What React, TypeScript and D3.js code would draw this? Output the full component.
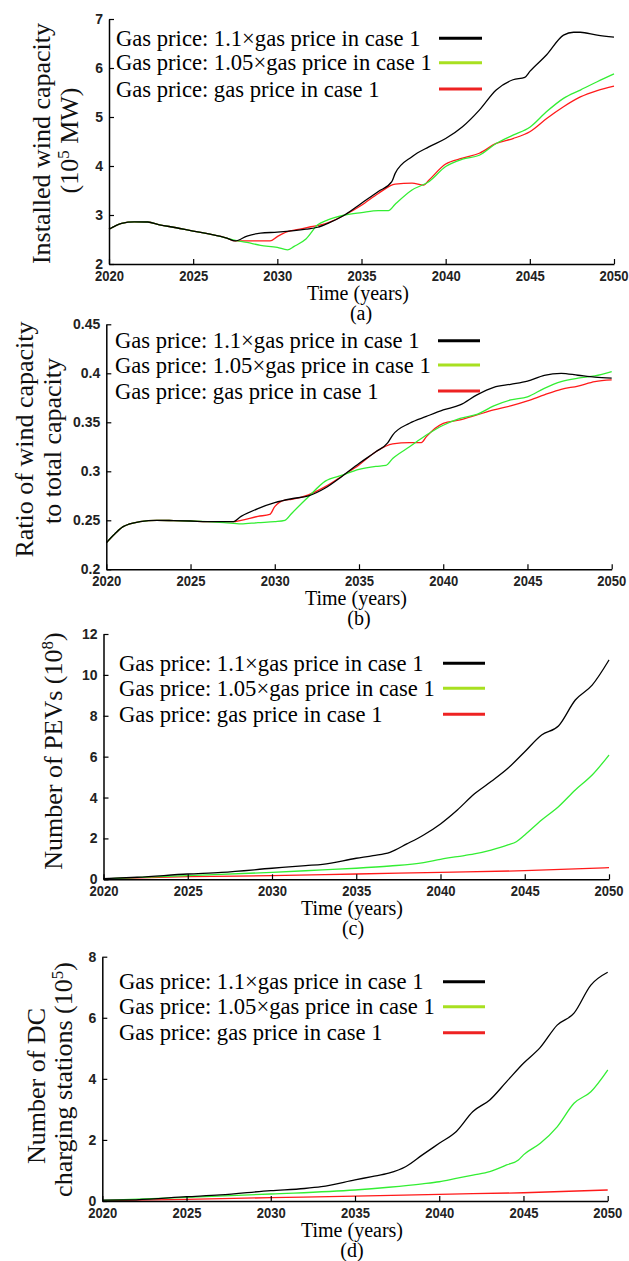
import React, { useRef, useEffect } from 'react';
import * as d3 from 'd3';

// shared labels
const yearTicks = [2020, 2025, 2030, 2035, 2040, 2045, 2050];
const legendLabels = [
  'Gas price: 1.1\u00d7gas price in case 1',
  'Gas price: 1.05\u00d7gas price in case 1',
  'Gas price: gas price in case 1',
];

// (a) installed wind capacity, 10^5 MW  -- [year, value]
const capTicks = [2, 3, 4, 5, 6, 7];
const capShared = [[2020, 2.71], [2020.75, 2.83], [2021.5, 2.86], [2022.3, 2.857], [2023, 2.8], [2024, 2.74], [2025, 2.67], [2026, 2.61], [2027, 2.53]];
const capBlack = [[2027.5, 2.47], [2028.2, 2.57], [2029, 2.63], [2030, 2.65], [2031, 2.68], [2031.7, 2.71], [2032.4, 2.75], [2033, 2.83], [2034, 3.0], [2035, 3.24], [2036, 3.48], [2036.8, 3.68], [2037, 3.85], [2038, 4.19], [2039, 4.39], [2040, 4.56], [2041, 4.8], [2042, 5.14], [2043, 5.55], [2044, 5.76], [2044.7, 5.81], [2045, 5.93], [2046, 6.27], [2047, 6.67], [2047.6, 6.73], [2048, 6.73], [2049, 6.67], [2050, 6.63]];
const capGreen = [[2027.5, 2.48], [2028.2, 2.44], [2029, 2.38], [2030, 2.34], [2030.6, 2.29], [2031, 2.36], [2031.7, 2.51], [2032.4, 2.8], [2033, 2.9], [2034, 3.0], [2035, 3.05], [2036, 3.09], [2036.6, 3.09], [2037, 3.22], [2038, 3.51], [2039, 3.68], [2040, 3.99], [2041, 4.14], [2042, 4.22], [2043, 4.46], [2044, 4.63], [2045, 4.79], [2046, 5.11], [2047, 5.38], [2048, 5.55], [2049, 5.72], [2050, 5.88]];
const capRed = [[2027.5, 2.47], [2029.57, 2.47], [2030, 2.56], [2030.8, 2.68], [2031, 2.69], [2032, 2.76], [2033, 2.84], [2034, 3.0], [2035, 3.2], [2036, 3.44], [2037, 3.63], [2038, 3.65], [2038.7, 3.61], [2039, 3.71], [2040, 4.04], [2041, 4.16], [2042, 4.26], [2043, 4.46], [2044, 4.56], [2045, 4.7], [2046, 4.97], [2047, 5.21], [2048, 5.41], [2049, 5.54], [2050, 5.63]];

// (b) ratio of wind capacity to total capacity
const ratioTicks = [0.2, 0.25, 0.3, 0.35, 0.4, 0.45];
const ratioShared = [[2020, 0.227], [2020.5, 0.236], [2021, 0.2435], [2022, 0.2486], [2023, 0.25], [2024, 0.2497], [2025, 0.2493], [2026, 0.2486]];
const ratioBlack = [[2027, 0.2486], [2027.5, 0.2486], [2028, 0.254], [2029, 0.262], [2030, 0.268], [2031, 0.272], [2032, 0.275], [2033, 0.283], [2034, 0.295], [2035, 0.308], [2036, 0.32], [2036.7, 0.329], [2037, 0.337], [2038, 0.349], [2039, 0.356], [2040, 0.3626], [2041, 0.3677], [2042, 0.378], [2043, 0.3857], [2044, 0.3888], [2045, 0.392], [2046, 0.398], [2047, 0.4], [2048, 0.398], [2049, 0.396], [2050, 0.395]];
const ratioGreen = [[2027, 0.2476], [2028, 0.2463], [2029, 0.2476], [2030, 0.2486], [2030.6, 0.25], [2031, 0.257], [2032, 0.274], [2033, 0.29], [2034, 0.296], [2035, 0.302], [2036, 0.305], [2036.6, 0.306], [2037, 0.313], [2038, 0.325], [2039, 0.337], [2040, 0.347], [2041, 0.354], [2042, 0.358], [2043, 0.3667], [2044, 0.3728], [2045, 0.376], [2046, 0.3847], [2047, 0.3915], [2048, 0.395], [2049, 0.3973], [2050, 0.4017]];
const ratioRed = [[2027, 0.2486], [2027.5, 0.2486], [2028, 0.25], [2029, 0.254], [2029.7, 0.256], [2030, 0.264], [2030.6, 0.2707], [2031, 0.2714], [2032, 0.276], [2033, 0.2843], [2034, 0.2952], [2035, 0.3065], [2036, 0.32], [2037, 0.328], [2038, 0.3293], [2038.7, 0.3293], [2039, 0.3354], [2040, 0.349], [2041, 0.3524], [2042, 0.3575], [2043, 0.3626], [2044, 0.3667], [2045, 0.3718], [2046, 0.378], [2047, 0.3837], [2048, 0.387], [2049, 0.3915], [2050, 0.3932]];

// (c) number of PEVs, 10^8
const pevTicks = [0, 2, 4, 6, 8, 10, 12];
const pevBlack = [[2020, 0.03], [2022, 0.1], [2025, 0.26], [2027, 0.34], [2030, 0.54], [2032, 0.67], [2033, 0.73], [2035, 1.03], [2036, 1.16], [2037, 1.32], [2038, 1.73], [2039, 2.17], [2040, 2.71], [2041, 3.39], [2042, 4.17], [2043, 4.78], [2044, 5.43], [2045, 6.24], [2046, 7.06], [2047, 7.5], [2048, 8.77], [2049, 9.5], [2050, 10.73]];
const pevGreen = [[2020, 0.02], [2025, 0.18], [2030, 0.34], [2033, 0.46], [2035, 0.54], [2037, 0.65], [2039, 0.82], [2040, 0.98], [2041, 1.11], [2042, 1.24], [2043, 1.43], [2044, 1.68], [2044.5, 1.84], [2045, 2.17], [2046, 2.9], [2047, 3.55], [2048, 4.37], [2049, 5.1], [2050, 6.08]];
const pevRed = [[2020, 0.02], [2025, 0.13], [2030, 0.18], [2035, 0.26], [2040, 0.34], [2045, 0.42], [2050, 0.57]];

// (d) number of DC charging stations, 10^5
const dcTicks = [0, 2, 4, 6, 8];
const dcBlack = [[2020, 0.03], [2022, 0.04], [2025, 0.14], [2027, 0.2], [2030, 0.34], [2032, 0.41], [2033, 0.47], [2035, 0.69], [2036, 0.8], [2037, 0.91], [2038, 1.12], [2039, 1.51], [2040, 1.89], [2041, 2.27], [2042, 2.93], [2043, 3.31], [2044, 3.91], [2045, 4.51], [2046, 5.03], [2047, 5.76], [2048, 6.15], [2049, 7.07], [2050, 7.49]];
const dcGreen = [[2020, 0.02], [2025, 0.12], [2030, 0.23], [2035, 0.36], [2037, 0.45], [2039, 0.56], [2040, 0.63], [2041, 0.74], [2042, 0.85], [2043, 0.96], [2044, 1.18], [2044.7, 1.34], [2045, 1.51], [2046, 1.89], [2047, 2.43], [2048, 3.2], [2049, 3.58], [2050, 4.29]];
const dcRed = [[2020, 0.01], [2025, 0.05], [2030, 0.11], [2035, 0.16], [2040, 0.22], [2045, 0.27], [2050, 0.36]];

const serif = "'Liberation Serif', 'Times New Roman', serif";
const sans = "'Liberation Sans', Arial, sans-serif";
const lineColors = { black: '#000000', green: '#33ee33', red: '#ff1a1a' };
const legendColors = ['#000000', '#a8e020', '#ee2222'];

type Part = [string, boolean];
interface Panel {
  x0: number; x1: number; yTop: number; yBot: number;
  domain: [number, number]; ticks: number[];
  series: { color: string; data: number[][] }[];
  legendX: number; legendY: number[]; legLine: [number, number];
  titles: { x: number; y: number; parts: Part[] }[];
  timeX: number; letter: string; letterX: number;
}

const panels: Panel[] = [
  {
    x0: 109, x1: 614, yTop: 19, yBot: 264, domain: [2, 7], ticks: capTicks,
    series: [
      { color: lineColors.red, data: [...capShared, ...capRed] },
      { color: lineColors.green, data: [...capShared, ...capGreen] },
      { color: lineColors.black, data: [...capShared, ...capBlack] },
    ],
    legendX: 116, legendY: [38.3, 62.7, 89], legLine: [439, 482],
    titles: [
      { x: 41, y: 143.5, parts: [['Installed wind capacity', false]] },
      { x: 69, y: 140.5, parts: [['(10', false], ['5', true], [' MW)', false]] },
    ],
    timeX: 358, letter: '(a)', letterX: 361,
  },
  {
    x0: 106.3, x1: 611.7, yTop: 324.3, yBot: 569.3, domain: [0.2, 0.45], ticks: ratioTicks,
    series: [
      { color: lineColors.red, data: [...ratioShared, ...ratioRed] },
      { color: lineColors.green, data: [...ratioShared, ...ratioGreen] },
      { color: lineColors.black, data: [...ratioShared, ...ratioBlack] },
    ],
    legendX: 115, legendY: [340.7, 365, 391], legLine: [438, 480],
    titles: [
      { x: 24, y: 439.5, parts: [['Ratio of wind capacity', false]] },
      { x: 52, y: 441, parts: [['to total capacity', false]] },
    ],
    timeX: 356, letter: '(b)', letterX: 359,
  },
  {
    x0: 103.5, x1: 609, yTop: 634, yBot: 879.3, domain: [0, 12], ticks: pevTicks,
    series: [
      { color: lineColors.red, data: pevRed },
      { color: lineColors.green, data: pevGreen },
      { color: lineColors.black, data: pevBlack },
    ],
    legendX: 119, legendY: [663.3, 688.3, 714.3], legLine: [443, 485],
    titles: [
      { x: 53, y: 751, parts: [['Number of PEVs (10', false], ['8', true], [')', false]] },
    ],
    timeX: 352, letter: '(c)', letterX: 353,
  },
  {
    x0: 102.3, x1: 607.7, yTop: 956.7, yBot: 1201, domain: [0, 8], ticks: dcTicks,
    series: [
      { color: lineColors.red, data: dcRed },
      { color: lineColors.green, data: dcGreen },
      { color: lineColors.black, data: dcBlack },
    ],
    legendX: 119, legendY: [981.7, 1006.7, 1032.7], legLine: [443, 485],
    titles: [
      { x: 36, y: 1086, parts: [['Number of DC', false]] },
      { x: 63, y: 1079.5, parts: [['charging stations (10', false], ['5', true], [')', false]] },
    ],
    timeX: 352, letter: '(d)', letterX: 352,
  },
];

export default function App() {
  const svgRef = useRef<SVGSVGElement>(null);

  useEffect(() => {
    if (!svgRef.current) return;
    const svg = d3.select(svgRef.current);
    svg.selectAll('*').remove();

    panels.forEach((p) => {
      const g = svg.append('g');
      const x = d3.scaleLinear().domain([2020, 2050]).range([p.x0, p.x1]);
      const y = d3.scaleLinear().domain(p.domain).range([p.yBot, p.yTop]);

      //lines
      const line = d3.line<number[]>()
        .x((d) => x(d[0]))
        .y((d) => y(d[1]))
        .curve(d3.curveMonotoneX);
      p.series.forEach((s) => {
        g.append('path')
          .datum(s.data)
          .attr('fill', 'none')
          .attr('stroke', s.color)
          .attr('stroke-width', 1.3)
          .attr('d', line);
      });

      //axes
      const xAxis = d3.axisBottom(x).tickValues(yearTicks).tickFormat((d) => String(d))
        .tickSizeInner(-5).tickSizeOuter(0).tickPadding(7);
      const yAxis = d3.axisLeft(y).tickValues(p.ticks).tickFormat((d) => String(d))
        .tickSizeInner(-5).tickSizeOuter(0).tickPadding(6);

      const xg = g.append('g').attr('transform', `translate(0,${p.yBot})`).call(xAxis);
      const yg = g.append('g').attr('transform', `translate(${p.x0},0)`).call(yAxis);
      [xg, yg].forEach((ag) => {
        ag.select('.domain').attr('stroke', '#000').attr('stroke-width', 1.5);
        ag.selectAll('.tick line').attr('stroke', '#000').attr('stroke-width', 1.2);
        ag.selectAll('.tick text')
          .attr('fill', '#222')
          .attr('font-family', sans)
          .attr('font-weight', 'bold')
          .attr('font-size', 14);
      });
      xg.selectAll('.tick text').attr('textLength', 29).attr('lengthAdjust', 'spacingAndGlyphs');
      // last year label sits flush with the right edge
      xg.selectAll<SVGTextElement, number>('.tick text')
        .filter((d) => d === 2050)
        .attr('text-anchor', 'end')
        .attr('x', 14);

      //legend
      legendLabels.forEach((lab, i) => {
        g.append('text')
          .attr('x', p.legendX)
          .attr('y', p.legendY[i] + 7.5)
          .attr('font-family', serif)
          .attr('font-size', 22.6)
          .attr('fill', '#000')
          .text(lab);
        g.append('line')
          .attr('x1', p.legLine[0]).attr('x2', p.legLine[1])
          .attr('y1', p.legendY[i]).attr('y2', p.legendY[i])
          .attr('stroke', legendColors[i])
          .attr('stroke-width', 3);
      });

      //y titles
      p.titles.forEach((t) => {
        const txt = g.append('text')
          .attr('transform', `translate(${t.x},${t.y}) rotate(-90)`)
          .attr('text-anchor', 'middle')
          .attr('dy', '0.35em')
          .attr('font-family', serif)
          .attr('font-size', 26)
          .attr('fill', '#111');
        t.parts.forEach(([s, sup]) => {
          const ts = txt.append('tspan').text(s);
          if (sup) ts.attr('font-size', 17).attr('baseline-shift', 'super');
        });
      });

      //x title and panel letter
      g.append('text')
        .attr('x', p.timeX).attr('y', p.yBot + 36)
        .attr('text-anchor', 'middle')
        .attr('font-family', serif).attr('font-size', 20).attr('fill', '#000')
        .text('Time (years)');
      g.append('text')
        .attr('x', p.letterX).attr('y', p.yBot + 56)
        .attr('text-anchor', 'middle')
        .attr('font-family', serif).attr('font-size', 20).attr('fill', '#000')
        .text(p.letter);
    });
  }, []);

  return (
    <svg
      ref={svgRef}
      width={629}
      height={1261}
      style={{ position: 'absolute', left: 0, top: 0, background: '#fff' }}
    />
  );
}
